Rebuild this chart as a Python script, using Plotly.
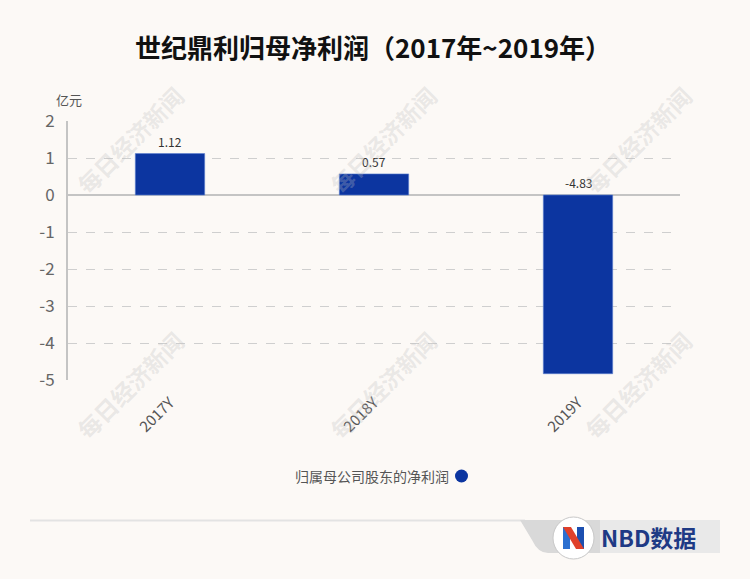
import plotly.graph_objects as go

categories = ["2017Y", "2018Y", "2019Y"]
values = [1.12, 0.57, -4.83]
value_labels = ["1.12", "0.57", "-4.83"]
series_name = "归属母公司股东的净利润"
y_ticks = [2, 1, 0, -1, -2, -3, -4, -5]
title_text = "世纪鼎利归母净利润（2017年~2019年）"
unit_text = "亿元"

BLUE = "#0c35a0"
BG = "#fcf9f6"
FONT = "Noto Sans CJK SC"

# plot area in pixels
L, R, T, B = 68, 680, 121, 380


def px(x):
    return (x - L) / (R - L)


def py(y):
    return (B - y) / (B - T)


fig = go.Figure()
fig.add_trace(go.Bar(
    x=categories, y=values, name=series_name, width=0.34,
    marker=dict(color=BLUE, line=dict(color="#5d7fd0", width=0.6)),
    showlegend=False, hoverinfo="skip",
))

annotations = []
for c, v, lab in zip(categories, values, value_labels):
    annotations.append(dict(x=c, y=max(v, 0), xref="x", yref="y", text=lab,
                            showarrow=False, yanchor="bottom", yshift=2,
                            font=dict(family=FONT, size=12, color="#333")))

# watermarks
for wx in [130, 383, 638]:
    for wy in [140, 385]:
        annotations.append(dict(x=px(wx), y=py(wy), xref="paper", yref="paper",
                                text="<b>每日经济新闻</b>", showarrow=False, textangle=-45,
                                font=dict(family=FONT, size=23, color="rgba(190,190,190,0.3)"),
                                xanchor="center", yanchor="middle"))

annotations += [
    dict(x=px(373), y=py(47), xref="paper", yref="paper", text="<b>" + title_text + "</b>",
         showarrow=False, font=dict(family=FONT, size=26, color="#111"),
         xanchor="center", yanchor="middle"),
    dict(x=px(54), y=py(100), xref="paper", yref="paper", text=unit_text,
         showarrow=False, font=dict(family=FONT, size=13, color="#555"),
         xanchor="left", yanchor="middle"),
    dict(x=px(451), y=py(476), xref="paper", yref="paper", text=series_name,
         showarrow=False, font=dict(family=FONT, size=14, color="#555"),
         xanchor="right", yanchor="middle"),
    dict(x=px(599), y=py(537), xref="paper", yref="paper", text="<b>NBD数据</b>",
         showarrow=False, font=dict(family=FONT, size=23, color="#1e3a85"),
         xanchor="left", yanchor="middle"),
]

shapes = [
    # legend marker
    dict(type="circle", xref="paper", yref="paper", x0=px(455), x1=px(468), y0=py(482.5), y1=py(469.5),
         fillcolor=BLUE, line=dict(width=0)),
    # footer line
    dict(type="line", xref="paper", yref="paper", x0=px(30), x1=px(525), y0=py(520.5), y1=py(520.5),
         line=dict(color="#e3e3e3", width=2)),
    # tab
    dict(type="path", xref="paper", yref="paper",
         path=f"M {px(520)},{py(520)} L {px(720)},{py(520)} L {px(720)},{py(553)} L {px(548)},{py(553)} "
              f"Q {px(538)},{py(553)} {px(532)},{py(540)} Z",
         fillcolor="#d9d9d9", line=dict(width=0)),
    dict(type="rect", xref="paper", yref="paper", x0=px(600), x1=px(720), y0=py(553), y1=py(520),
         fillcolor="#e9e9e9", line=dict(width=0)),
    # logo circle
    dict(type="circle", xref="paper", yref="paper", x0=px(553), x1=px(594), y0=py(559), y1=py(517),
         fillcolor="white", line=dict(color="#c8c8c8", width=1)),
    # logo N
    dict(type="path", xref="paper", yref="paper",
         path=f"M {px(563)},{py(527)} L {px(570)},{py(527)} L {px(570)},{py(549)} L {px(563)},{py(549)} Z",
         fillcolor="#2b6fd0", line=dict(width=0)),
    dict(type="path", xref="paper", yref="paper",
         path=f"M {px(577)},{py(527)} L {px(584)},{py(527)} L {px(584)},{py(549)} L {px(577)},{py(549)} Z",
         fillcolor="#1c4fb0", line=dict(width=0)),
    dict(type="path", xref="paper", yref="paper",
         path=f"M {px(563)},{py(527)} L {px(571)},{py(527)} L {px(584)},{py(549)} L {px(576)},{py(549)} Z",
         fillcolor="#e0402a", line=dict(width=0)),
]

fig.update_layout(
    width=750, height=579,
    paper_bgcolor=BG, plot_bgcolor=BG,
    margin=dict(l=L, r=750 - R, t=T, b=579 - B),
    font=dict(family=FONT, color="#666"),
    annotations=annotations,
    shapes=shapes,
    showlegend=False,
    xaxis=dict(type="category", tickangle=-45, showgrid=False, showline=False, zeroline=False,
               tickfont=dict(family=FONT, size=15, color="#555"), ticks="", ticklabelstandoff=10),
    yaxis=dict(range=[-5, 2], tickvals=y_ticks, ticktext=[str(t) for t in y_ticks],
               showgrid=True, gridcolor="#cfcfcf", griddash="dash", gridwidth=1,
               zeroline=True, zerolinecolor="#c4c4c4", zerolinewidth=2,
               showline=True, linecolor="#c4c4c4", linewidth=2, ticks="",
               tickfont=dict(family=FONT, size=17, color="#666"), ticklabelstandoff=8),
)

fig.write_html("out.html", config={"displayModeBar": False},
               post_script="document.body.style.margin='0';document.body.style.background='" + BG + "';")
